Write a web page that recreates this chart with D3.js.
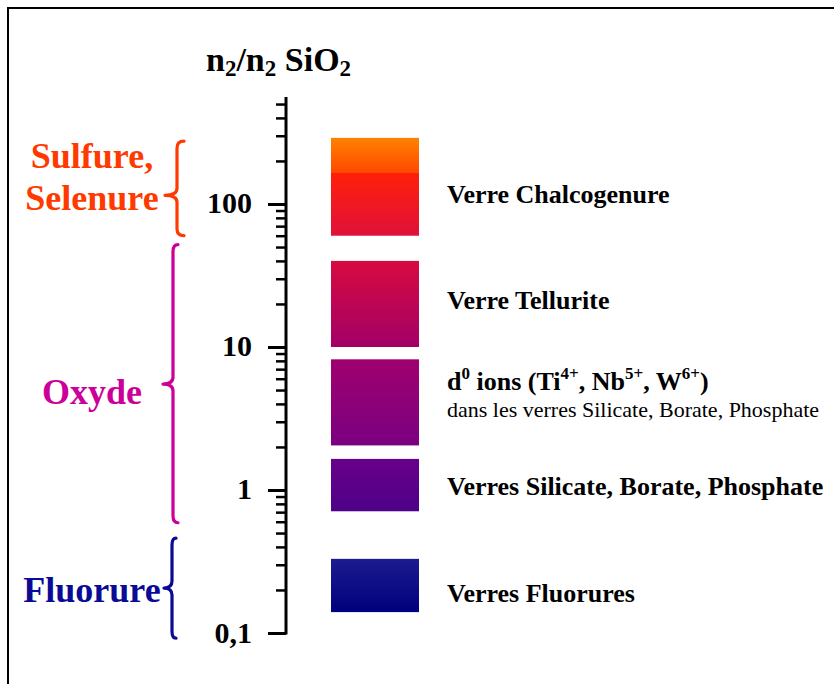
<!DOCTYPE html>
<html>
<head>
<meta charset="utf-8">
<script src="https://cdn.jsdelivr.net/npm/d3@7"></script>
<style>
  html, body { margin: 0; padding: 0; background: #fff; }
  svg { display: block; }
  text { font-family: "Liberation Serif", "Times New Roman", serif; }
</style>
</head>
<body>
<svg id="chart" width="834" height="684"></svg>
<script>
// ---- data ----
const categories = ["Verre Chalcogenure", "Verre Tellurite", "d0 ions", "Verres Silicate, Borate, Phosphate", "Verres Fluorures"];
const lowValues  = [60, 10, 2.05, 0.71, 0.14];
const highValues = [290, 40, 8.2, 1.65, 0.33];
const barTopColors    = ["#ff8200", "#d80a40", "#a0006e", "#68008a", "#1c1c8e"];
const barBottomColors = ["#e0103a", "#a20068", "#7a0082", "#4e0088", "#00007e"];
const majorTicks = [0.1, 1, 10, 100];
const majorTickLabels = ["0,1", "1", "10", "100"];
const groupNames  = [["Sulfure,", "Selenure"], ["Oxyde"], ["Fluorure"]];
const groupLow    = [60, 0.59, 0.092];
const groupHigh   = [275, 52, 0.46];
const groupTip    = [115, 5.5, 0.206];
const groupColors = ["#ff3a00", "#cc0099", "#0a0a96"];

// ---- layout ----
const svg = d3.select("#chart");
const axisX = 286;
const y = d3.scaleLog().domain([0.1, 560]).range([633, 97]);

// frame
svg.append("path").attr("d", "M8,684 L8,8 L834,8")
  .attr("fill", "none").attr("stroke", "#000").attr("stroke-width", 2);

// title
const title = svg.append("text").attr("x", 206).attr("y", 71)
  .attr("font-size", 34).attr("font-weight", "bold").attr("fill", "#000");
title.append("tspan").text("n");
title.append("tspan").attr("font-size", 23).attr("dy", 5).text("2");
title.append("tspan").attr("dy", -5).text("/n");
title.append("tspan").attr("font-size", 23).attr("dy", 5).text("2");
title.append("tspan").attr("dy", -5).text(" SiO");
title.append("tspan").attr("font-size", 23).attr("dy", 5).text("2");

// axis
const minorTicks = y.ticks().filter(v => !majorTicks.some(m => Math.abs(m - v) / m < 1e-6));
const gMinor = svg.append("g").attr("transform", `translate(${axisX},0)`)
  .call(d3.axisLeft(y).tickValues(minorTicks).tickSize(10).tickFormat(""));
gMinor.select(".domain").remove();
gMinor.selectAll(".tick line").attr("stroke", "#000").attr("stroke-width", 2.5);

const gMajor = svg.append("g").attr("transform", `translate(${axisX},0)`)
  .call(d3.axisLeft(y).tickValues(majorTicks).tickSize(18).tickPadding(16)
    .tickFormat((d, i) => majorTickLabels[i]));
gMajor.select(".domain").remove();
gMajor.selectAll(".tick line").attr("stroke", "#000").attr("stroke-width", 3);
gMajor.selectAll(".tick text")
  .attr("font-family", "Liberation Serif, Times New Roman, serif")
  .attr("font-size", 30).attr("font-weight", "bold").attr("fill", "#000")
  .attr("dy", "0.3em");

svg.append("line").attr("x1", axisX).attr("x2", axisX)
  .attr("y1", y.range()[1]).attr("y2", y.range()[0] + 1.5)
  .attr("stroke", "#000").attr("stroke-width", 3);

// gradients
const defs = svg.append("defs");
categories.forEach((c, i) => {
  const g = defs.append("linearGradient").attr("id", "grad" + i)
    .attr("x1", 0).attr("x2", 0).attr("y1", 0).attr("y2", 1);
  if (i === 0) {
    g.append("stop").attr("offset", "0%").attr("stop-color", "#ff8200");
    g.append("stop").attr("offset", "35.5%").attr("stop-color", "#ff4800");
    g.append("stop").attr("offset", "35.5%").attr("stop-color", "#ff2008");
    g.append("stop").attr("offset", "100%").attr("stop-color", barBottomColors[i]);
  } else {
    g.append("stop").attr("offset", "0%").attr("stop-color", barTopColors[i]);
    g.append("stop").attr("offset", "100%").attr("stop-color", barBottomColors[i]);
  }
});

// bars
const barX = 331, barW = 88;
svg.selectAll("rect.bar").data(categories).enter().append("rect")
  .attr("class", "bar")
  .attr("x", barX).attr("width", barW)
  .attr("y", (d, i) => y(highValues[i]))
  .attr("height", (d, i) => y(lowValues[i]) - y(highValues[i]))
  .attr("fill", (d, i) => `url(#grad${i})`);

// right labels
const labelX = 447;
const labelOffsets = [16, 5, -4, 10, 17];
categories.forEach((c, i) => {
  const cy = (y(lowValues[i]) + y(highValues[i])) / 2 + labelOffsets[i];
  if (i === 2) {
    const t = svg.append("text").attr("x", labelX).attr("y", cy - 8)
      .attr("font-size", 26).attr("font-weight", "bold").attr("fill", "#000");
    t.append("tspan").text("d");
    t.append("tspan").attr("font-size", 17).attr("dy", -11).text("0");
    t.append("tspan").attr("dy", 11).text(" ions (Ti");
    t.append("tspan").attr("font-size", 17).attr("dy", -11).text("4+");
    t.append("tspan").attr("dy", 11).text(", Nb");
    t.append("tspan").attr("font-size", 17).attr("dy", -11).text("5+");
    t.append("tspan").attr("dy", 11).text(", W");
    t.append("tspan").attr("font-size", 17).attr("dy", -11).text("6+");
    t.append("tspan").attr("dy", 11).text(")");
    svg.append("text").attr("x", labelX).attr("y", cy + 19)
      .attr("font-size", 22).attr("fill", "#000")
      .text("dans les verres Silicate, Borate, Phosphate");
  } else {
    svg.append("text").attr("x", labelX).attr("y", cy)
      .attr("font-size", 26).attr("font-weight", "bold").attr("fill", "#000")
      .text(c);
  }
});

// braces + group labels
const braceSpine = [177, 173, 172];
const braceEnd = [184, 178, 176];
const braceTipX = [165, 163, 164];
function bracePath(top, bot, tip, xs, xe, xt) {
  const r = 7;
  return `M${xe},${top} Q${xs},${top} ${xs},${top + r} L${xs},${tip - r} Q${xs},${tip} ${xt},${tip}` +
         ` Q${xs},${tip} ${xs},${tip + r} L${xs},${bot - r} Q${xs},${bot} ${xe},${bot}`;
}
groupNames.forEach((names, i) => {
  const top = y(groupHigh[i]), bot = y(groupLow[i]), tip = y(groupTip[i]);
  svg.append("path")
    .attr("d", bracePath(top, bot, tip, braceSpine[i], braceEnd[i], braceTipX[i]))
    .attr("fill", "none").attr("stroke", groupColors[i]).attr("stroke-width", 3.2)
    .attr("stroke-linecap", "round").attr("stroke-linejoin", "round");
  const n = names.length;
  names.forEach((nm, k) => {
    svg.append("text")
      .attr("x", 92)
      .attr("y", tip + 11 + (k - (n - 1) / 2) * 42 - (i === 0 ? 17 : 0) + (i === 1 ? 9 : 0) + (i === 2 ? 3 : 0))
      .attr("text-anchor", "middle")
      .attr("font-size", 36).attr("font-weight", "bold").attr("fill", groupColors[i])
      .text(nm);
  });
});
</script>
</body>
</html>
